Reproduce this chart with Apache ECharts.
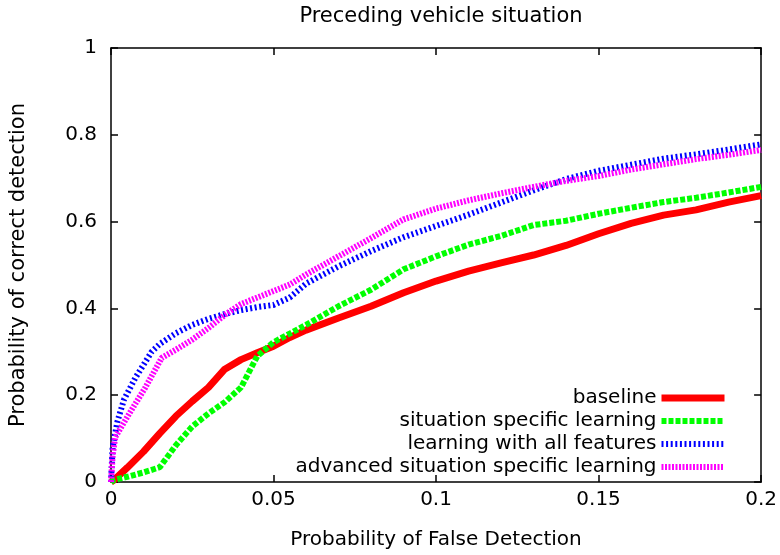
<!DOCTYPE html>
<html>
<head>
<meta charset="utf-8">
<script src="https://cdn.jsdelivr.net/npm/echarts@6/dist/echarts.min.js"></script>
<style>html,body{margin:0;padding:0;background:#fff}#c{width:780px;height:555px}</style>
</head>
<body>
<div id="c"></div>
<script>
const titleText = "Preceding vehicle situation";
const xAxisName = "Probability of False Detection";
const yAxisName = "Probability of correct detection";
const seriesNames = ["baseline", "situation specific learning", "learning with all features", "advanced situation specific learning"];

const baselineX = [0, 0.001, 0.005, 0.01, 0.015, 0.02, 0.025, 0.03, 0.035, 0.04, 0.045, 0.05, 0.055, 0.06, 0.07, 0.08, 0.09, 0.1, 0.11, 0.12, 0.13, 0.14, 0.15, 0.16, 0.17, 0.18, 0.19, 0.2];
const baselineY = [0, 0.005, 0.033, 0.07, 0.112, 0.152, 0.186, 0.218, 0.26, 0.282, 0.298, 0.313, 0.333, 0.35, 0.378, 0.405, 0.436, 0.463, 0.486, 0.505, 0.523, 0.545, 0.572, 0.596, 0.615, 0.627, 0.645, 0.66];

const situationX = [0, 0.001, 0.005, 0.01, 0.015, 0.02, 0.025, 0.03, 0.035, 0.04, 0.045, 0.05, 0.055, 0.06, 0.07, 0.08, 0.09, 0.1, 0.11, 0.12, 0.13, 0.14, 0.15, 0.16, 0.17, 0.18, 0.19, 0.2];
const situationY = [0, 0.005, 0.012, 0.022, 0.034, 0.085, 0.128, 0.158, 0.184, 0.218, 0.29, 0.322, 0.342, 0.362, 0.405, 0.443, 0.49, 0.52, 0.547, 0.567, 0.592, 0.602, 0.618, 0.632, 0.645, 0.655, 0.667, 0.68];

const allFeaturesX = [0, 0.0005, 0.002, 0.004, 0.0075, 0.01, 0.0125, 0.015, 0.02, 0.025, 0.03, 0.035, 0.04, 0.045, 0.05, 0.055, 0.06, 0.07, 0.08, 0.09, 0.1, 0.11, 0.12, 0.13, 0.14, 0.15, 0.16, 0.17, 0.18, 0.19, 0.2];
const allFeaturesY = [0, 0.08, 0.14, 0.19, 0.24, 0.27, 0.30, 0.318, 0.343, 0.362, 0.376, 0.387, 0.396, 0.403, 0.408, 0.425, 0.457, 0.497, 0.532, 0.564, 0.59, 0.616, 0.644, 0.672, 0.698, 0.717, 0.731, 0.745, 0.755, 0.766, 0.778];

const advancedX = [0, 0.0005, 0.0013, 0.005, 0.0105, 0.0156, 0.02, 0.025, 0.03, 0.035, 0.04, 0.045, 0.05, 0.055, 0.06, 0.07, 0.08, 0.09, 0.1, 0.11, 0.12, 0.13, 0.14, 0.15, 0.16, 0.17, 0.18, 0.19, 0.2];
const advancedY = [0, 0.06, 0.103, 0.15, 0.217, 0.286, 0.305, 0.328, 0.355, 0.385, 0.41, 0.425, 0.44, 0.455, 0.478, 0.52, 0.562, 0.605, 0.63, 0.649, 0.665, 0.68, 0.694, 0.705, 0.72, 0.732, 0.744, 0.754, 0.765];

const zip = (xs, ys) => xs.map((x, i) => [x, ys[i]]);
const font = "'DejaVu Sans', sans-serif";

const lineStyles = [
  {width: 7, color: '#ff0000', type: 'solid', cap: 'butt'},
  {width: 6, color: '#00ff00', type: [5, 2], cap: 'butt'},
  {width: 6, color: '#0000ff', type: [2, 2.6], cap: 'butt'},
  {width: 6, color: '#ff00ff', type: [2, 1.5], cap: 'butt'}
];

const chart = echarts.init(document.getElementById('c'), null, {renderer: 'canvas'});
const axisCommon = {
  axisLine: {show: true, onZero: false, lineStyle: {color: '#000', width: 1.5}},
  axisTick: {show: true, inside: true, length: 7, lineStyle: {color: '#000', width: 1.5}},
  splitLine: {show: false}
};
chart.setOption({
  animation: false,
  backgroundColor: '#fff',
  title: {text: titleText, left: 436, top: 1, textAlign: 'center',
    textStyle: {fontFamily: font, fontSize: 21, fontWeight: 'normal', color: '#000'}},
  grid: {left: 109, right: 16, top: 48, bottom: 70, containLabel: false},
  legend: {
    orient: 'vertical', right: 47, top: 383, align: 'right', itemGap: 3,
    itemWidth: 63, itemHeight: 18,
    textStyle: {fontFamily: font, fontSize: 20, color: '#000'},
    itemStyle: {opacity: 0},
    lineStyle: {width: 'inherit'},
    data: seriesNames.map((n, i) => ({name: n, lineStyle: lineStyles[i]}))
  },
  xAxis: [
    Object.assign({type: 'value', min: 0, max: 0.2, interval: 0.05, position: 'bottom',
      name: xAxisName, nameLocation: 'middle', nameGap: 48,
      nameTextStyle: {fontFamily: font, fontSize: 20, color: '#000'},
      axisLabel: {fontFamily: font, fontSize: 20, color: '#000', margin: 8}}, axisCommon),
    Object.assign({type: 'value', min: 0, max: 0.2, interval: 0.05, position: 'top',
      axisLabel: {show: false}}, axisCommon)
  ],
  yAxis: [
    Object.assign({type: 'value', min: 0, max: 1, interval: 0.2, position: 'left',
      name: yAxisName, nameLocation: 'middle', nameGap: 82, nameRotate: 90,
      nameTextStyle: {fontFamily: font, fontSize: 21, color: '#000'},
      axisLabel: {fontFamily: font, fontSize: 20, color: '#000', margin: 14}}, axisCommon),
    Object.assign({type: 'value', min: 0, max: 1, interval: 0.2, position: 'right',
      axisLabel: {show: false}}, axisCommon)
  ],
  series: [
    {name: seriesNames[0], type: 'line', symbol: 'none', color: '#ff0000',
      lineStyle: lineStyles[0], data: zip(baselineX, baselineY)},
    {name: seriesNames[1], type: 'line', symbol: 'none', color: '#00ff00',
      lineStyle: lineStyles[1], data: zip(situationX, situationY)},
    {name: seriesNames[2], type: 'line', symbol: 'none', color: '#0000ff',
      lineStyle: lineStyles[2], data: zip(allFeaturesX, allFeaturesY)},
    {name: seriesNames[3], type: 'line', symbol: 'none', color: '#ff00ff',
      lineStyle: lineStyles[3], data: zip(advancedX, advancedY)}
  ]
});
</script>
</body>
</html>
